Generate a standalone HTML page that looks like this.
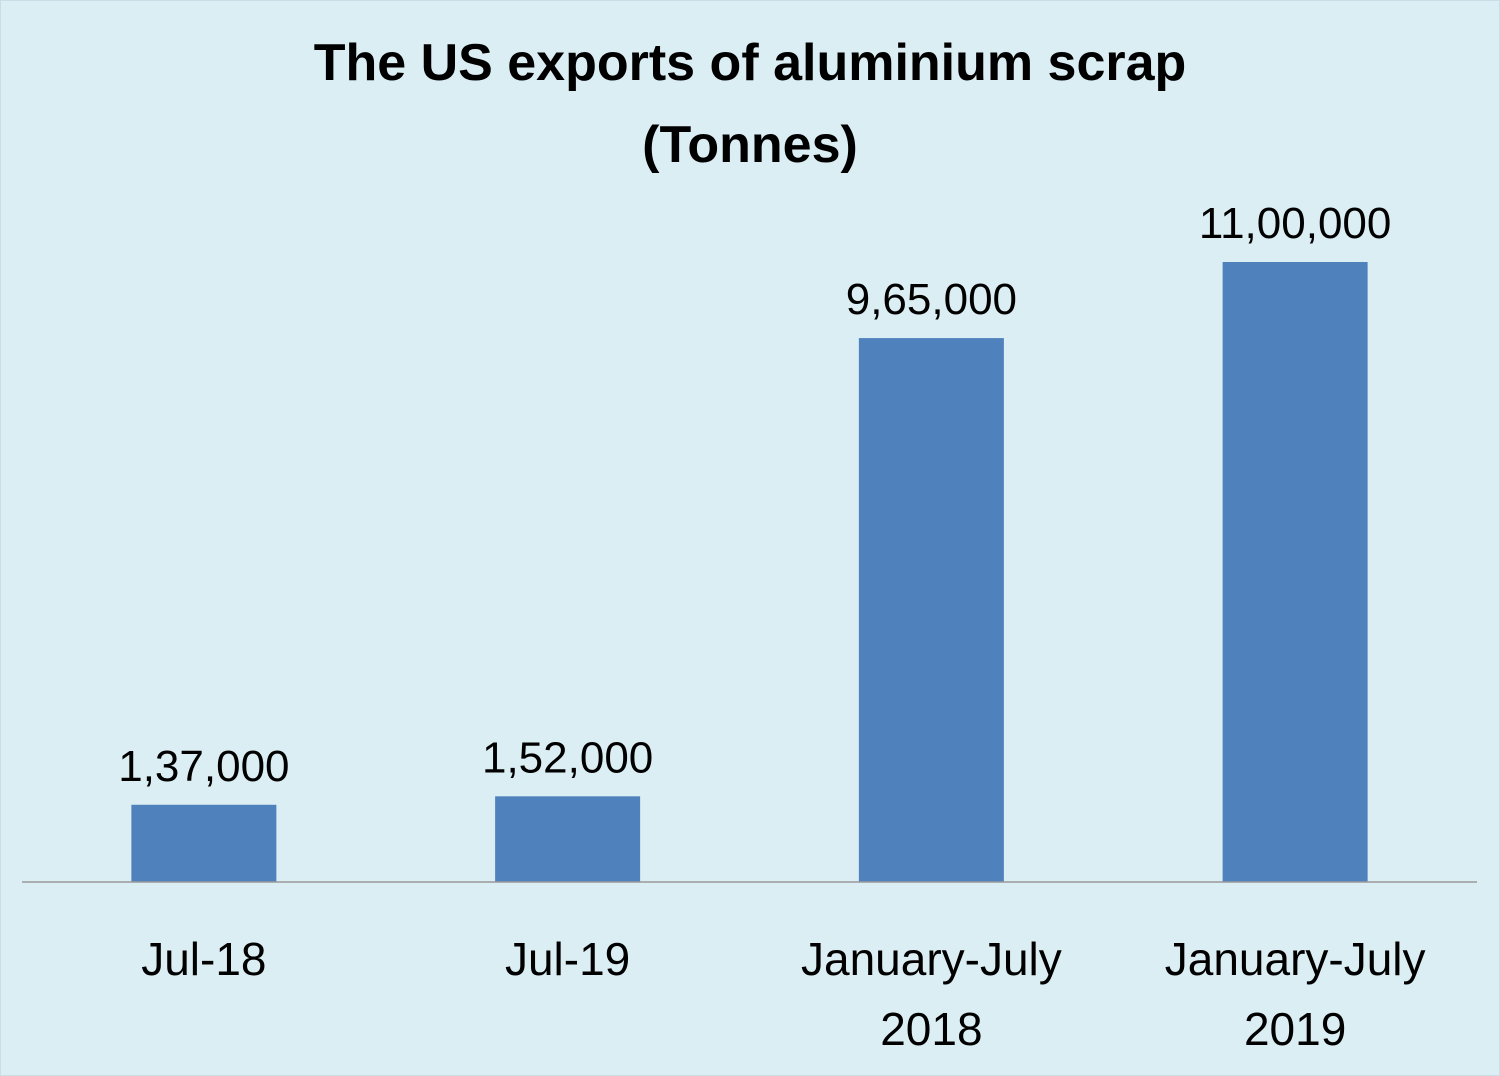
<!DOCTYPE html>
<html><head><meta charset="utf-8"><style>
body{margin:0;background:#dbeef4;}
svg{display:block;font-family:"Liberation Sans",sans-serif;}
</style></head><body>
<svg width="1500" height="1076">
<rect x="0" y="0" width="1500" height="1076" fill="#dbeef4" stroke="#c8dde5" stroke-width="2"/>
<text x="750" y="80" text-anchor="middle" font-size="52" font-weight="bold" fill="#000">The US exports of aluminium scrap</text>
<text x="750" y="162" text-anchor="middle" font-size="52" font-weight="bold" fill="#000">(Tonnes)</text>
<g id="plot"></g>
</svg>
<script>
const categories = [["Jul-18"],["Jul-19"],["January-July","2018"],["January-July","2019"]];
const values = [137000,152000,965000,1100000];
const valueLabels = ["1,37,000","1,52,000","9,65,000","11,00,000"];

const ns="http://www.w3.org/2000/svg";
const g=document.getElementById('plot');
const left=22,right=1477,base=882,scale=620/1100000;
const band=(right-left)/categories.length,bw=145;
function x(i){return left+band*i+band/2;}
function y(v){return base-v*scale;}
values.forEach((v,i)=>{
  const r=document.createElementNS(ns,'rect');
  r.setAttribute('x',x(i)-bw/2);r.setAttribute('y',y(v));
  r.setAttribute('width',bw);r.setAttribute('height',base-y(v));
  r.setAttribute('fill','#4f81bd');
  
  
  g.appendChild(r);
  const t=document.createElementNS(ns,'text');
  t.setAttribute('x',x(i));t.setAttribute('y',y(v)-24);
  t.setAttribute('text-anchor','middle');t.setAttribute('font-size','44');
  t.textContent=valueLabels[i];
  
  
  g.appendChild(t);
  categories[i].forEach((line,j)=>{
    const c=document.createElementNS(ns,'text');
    c.setAttribute('x',x(i));c.setAttribute('y',975+j*70);
    c.setAttribute('text-anchor','middle');c.setAttribute('font-size','46');
    c.textContent=line;
    
    
    g.appendChild(c);
  });
});
const ax=document.createElementNS(ns,'line');
ax.setAttribute('x1',left);ax.setAttribute('x2',right);ax.setAttribute('y1',base);ax.setAttribute('y2',base);
ax.setAttribute('stroke','#999');ax.setAttribute('stroke-width','1.5');


g.appendChild(ax);
</script>
</body></html>
